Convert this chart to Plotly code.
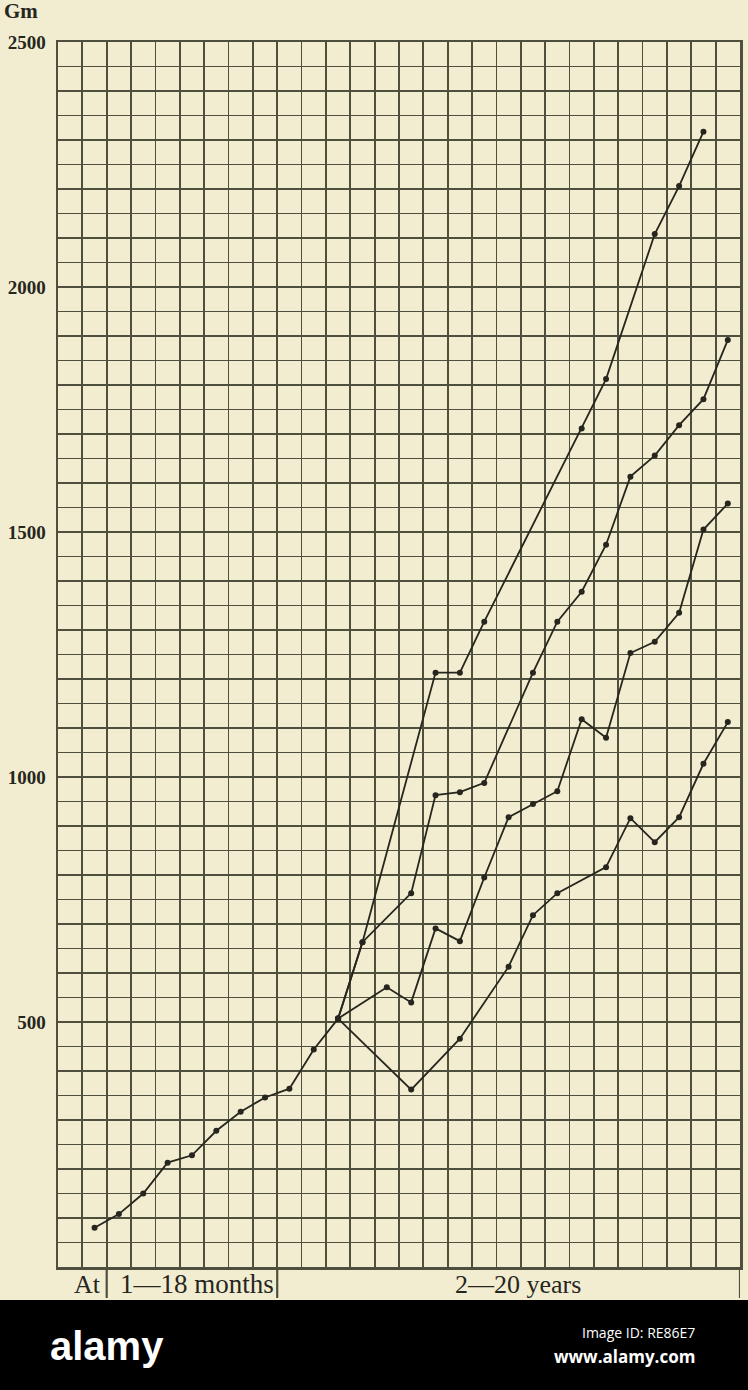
import plotly.graph_objects as go

# ---------------- data ----------------
early_labels = ["birth", "1 mo", "3 mo", "6 mo", "9 mo", "12 mo", "15 mo", "18 mo", "2 yr", "3 yr", "4 yr"]
early_values = [80, 108, 150, 213, 228, 278, 317, 346, 364, 444, 507]

years = list(range(2, 21))
branch_a = [None, None, 507, 663, None, None, 1213, 1213, 1317, None, None, None, 1711, 1812, None, 2108, 2206, 2317, None]
branch_b = [None, None, 507, 663, None, 763, 963, 969, 988, None, 1213, 1317, 1378, 1474, 1613, 1656, 1718, 1771, 1892]
branch_c = [None, None, 507, None, 571, 540, 691, 665, 795, 918, 945, 971, 1118, 1080, 1253, 1276, 1335, 1505, 1558]
branch_d = [None, None, 507, None, None, 362, None, 466, None, 613, 718, 763, None, 816, 916, 867, 918, 1027, 1112]

y_ticks = [500, 1000, 1500, 2000, 2500]
period_labels = ["At", "1\u201418 months", "2\u201420 years"]
period_bounds = [0, 2, 9, 28]

# ---------------- layout constants ----------------
W, H = 748, 1390
L, R, T, B = 58, 740, 42, 1267
BG = "#f2edd0"
GRID = "#4f4f3e"
INK = "#26261e"
SERIF = "Liberation Serif, DejaVu Serif, serif"

# column positions (cell centres)
early_x = [i + 1.5 for i in range(len(early_labels))]
year_x = [9.5 + (y - 2) for y in years]

fig = go.Figure()
line_style = dict(color=INK, width=1.8)
marker_style = dict(color=INK, size=6)

fig.add_trace(go.Scatter(x=early_x, y=early_values, mode="lines+markers",
                         line=line_style, marker=marker_style, hoverinfo="skip"))
for series in (branch_a, branch_b, branch_c, branch_d):
    fig.add_trace(go.Scatter(x=year_x, y=series, mode="lines+markers", connectgaps=True,
                             line=line_style, marker=marker_style, hoverinfo="skip"))

shapes = []
# period separators below the grid
for xb in period_bounds[1:]:
    shapes.append(dict(type="line", xref="x", yref="paper", x0=xb, x1=xb,
                       y0=(H - B) / H, y1=(H - 1298) / H,
                       line=dict(color=GRID, width=2.2)))
# alamy banner
shapes.append(dict(type="rect", xref="paper", yref="paper", x0=-0.02, x1=1.02, y0=-0.01, y1=90 / H,
                   fillcolor="#000000", line=dict(width=0), layer="above"))

annotations = []
period_centres = [1.2, 5.7, 18.9]
period_sizes = [26, 27, 26]
for lab, xc, fs in zip(period_labels, period_centres, period_sizes):
    annotations.append(dict(text=lab, x=xc, xref="x", y=(H - 1284) / H, yref="paper",
                            showarrow=False, font=dict(family=SERIF, size=fs, color=INK),
                            xanchor="center", yanchor="middle"))
annotations.append(dict(text="Gm", x=0, xref="paper", xshift=2, y=(H - 11) / H, yref="paper",
                        showarrow=False, xanchor="left", yanchor="middle",
                        font=dict(family=SERIF, size=21, color=INK, weight="bold")))
annotations.append(dict(text="alamy", x=48 / W, xref="paper", y=(H - 1346) / H, yref="paper",
                        showarrow=False, xanchor="left", yanchor="middle",
                        font=dict(family="Liberation Sans, Arial, sans-serif", size=40,
                                  color="#ffffff", weight="bold")))
annotations.append(dict(text="Image ID: RE86E7", x=697 / W, xref="paper", y=(H - 1332) / H, yref="paper",
                        showarrow=False, xanchor="right", yanchor="middle",
                        font=dict(family="Open Sans, Noto Sans, sans-serif", size=14, color="#ffffff")))
annotations.append(dict(text="www.alamy.com", x=697 / W, xref="paper", y=(H - 1356) / H, yref="paper",
                        showarrow=False, xanchor="right", yanchor="middle",
                        font=dict(family="Open Sans, Noto Sans, sans-serif", size=17, color="#ffffff",
                                  weight="bold")))

fig.update_layout(
    width=W, height=H,
    margin=dict(l=0, r=0, t=0, b=0),
    paper_bgcolor=BG, plot_bgcolor=BG,
    showlegend=False,
    shapes=shapes,
    annotations=annotations,
    xaxis=dict(domain=[L / W, R / W], range=[0, 28], tickmode="linear", tick0=0, dtick=1,
               showgrid=True, gridcolor=GRID, gridwidth=1.8, showticklabels=False, ticks="",
               zeroline=False, showline=True, mirror=True, linecolor=GRID, linewidth=2.5,
               fixedrange=True, automargin=False),
    yaxis=dict(domain=[(H - B) / H, (H - T) / H], range=[0, 2500],
               tickmode="array", tickvals=y_ticks, ticktext=[str(v) for v in y_ticks],
               showgrid=True, gridcolor=GRID, gridwidth=2.8, ticks="",
               tickfont=dict(family=SERIF, size=19, color=INK, weight="bold"),
               ticklabelstandoff=6,
               minor=dict(dtick=50, tick0=0, showgrid=True, gridcolor=GRID, gridwidth=1.8),
               zeroline=False, showline=True, mirror=True, linecolor=GRID, linewidth=2.5,
               fixedrange=True, automargin=False),
)

fig.write_html("out.html",
               config={"displayModeBar": False, "staticPlot": True},
               post_script="document.body.style.margin='0';document.body.style.padding='0';"
                           "document.body.style.overflow='hidden';document.body.style.background='" + BG + "';")
